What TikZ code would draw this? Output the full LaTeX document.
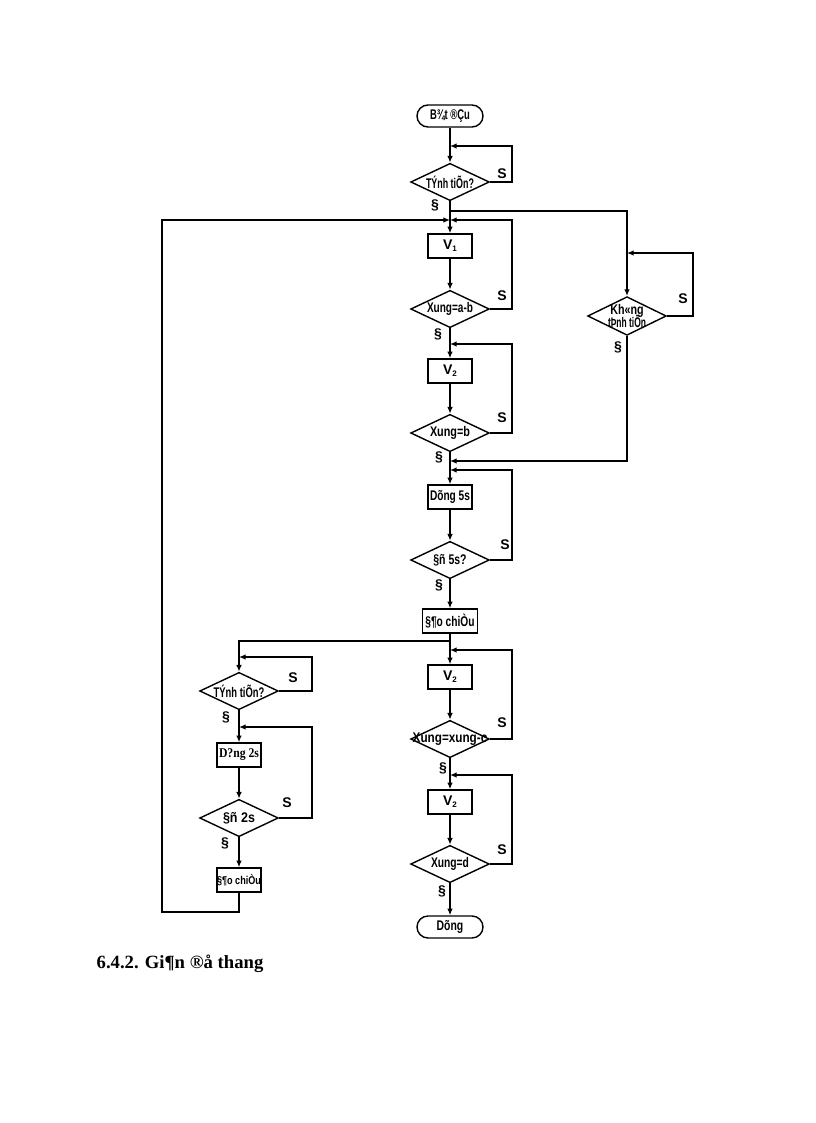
\documentclass[tikz,border=0pt]{standalone}
\usepackage{fontspec}
\usepackage{graphicx}
\setmainfont{Liberation Sans}
\newfontfamily\serifb{Liberation Serif}
\usetikzlibrary{shapes.geometric,arrows.meta}
\newcommand\sqz[2]{\makebox[0pt]{\resizebox{#1}{\height}{#2}}}
\newcommand\vsub[1]{V\raisebox{-1.5pt}{\fontsize{6}{6}\selectfont #1}}
\begin{document}
\begin{tikzpicture}[x=0.75pt,y=-0.75pt,line width=1.05pt,
  nf/.style={font=\fontsize{10.5}{12}\selectfont\bfseries},
  box/.style={nf,draw,rectangle,minimum width=33pt,minimum height=18pt,inner sep=0pt},
  dia/.style={nf,draw,diamond,minimum width=59pt,minimum height=28pt,inner sep=0pt},
  term/.style={nf,draw,rectangle,rounded corners=8.25pt,minimum width=49.5pt,minimum height=16.5pt,inner sep=0pt},
  lbl/.style={nf,inner sep=0pt},
  arr/.style={-{Latex[length=5pt,width=4.2pt]}}]
\fill[white] (0,0) rectangle (816,1123);
\useasboundingbox (0,0) rectangle (816,1123);

% main column
\node[term] (start) at (450,116) {\sqz{30pt}{B¾t ®Çu}};
\node[dia] (d1) at (450,182) {\sqz{36pt}{TÝnh tiÕn?}};
\node[box] (v1) at (450,246) {\makebox[0pt]{\vsub{1}}};
\node[dia] (d2) at (450,309) {\sqz{34.5pt}{Xung=a-b}};
\node[box] (v2) at (450,371) {\makebox[0pt]{\vsub{2}}};
\node[dia] (d3) at (450,433) {\sqz{30pt}{Xung=b}};
\node[box] (dung) at (450,497) {\sqz{30pt}{Dõng 5s}};
\node[dia] (d4) at (450,560) {\sqz{25pt}{§ñ 5s?}};
\node[box,minimum width=41pt] (dc1) at (450,621) {\sqz{37pt}{§¶o chiÒu}};
\node[box] (v3) at (450,677) {\makebox[0pt]{\vsub{2}}};
\node[dia] (d5) at (450,739) {\sqz{56pt}{Xung=xung-c}};
\node[box] (v4) at (450,802) {\makebox[0pt]{\vsub{2}}};
\node[dia] (d6) at (450,864) {\sqz{28.5pt}{Xung=d}};
\node[term] (stop) at (450,927) {\sqz{20pt}{Dõng}};

% right diamond
\node[dia,minimum height=29pt,label={[lbl,align=center]center:\resizebox{25pt}{\height}{Kh«ng}\\[-2pt]\resizebox{28.5pt}{\height}{tÞnh tiÕn}}] (k) at (627,316) {};

% left column
\node[dia] (L1) at (239,691) {\sqz{38pt}{TÝnh tiÕn?}};
\node[box] (b2s) at (239,755) {\makebox[0pt]{\resizebox{30pt}{\height}{\serifb\fontsize{10}{12}\selectfont D?ng 2s}}};
\node[dia] (L2) at (239,818) {\sqz{24pt}{§ñ 2s}};
\node[box,font=\fontsize{8.5}{10}\selectfont\bfseries] (dc2) at (239,880) {\sqz{33pt}{§¶o chiÒu}};

% junctions
\coordinate (j1) at (450,146);
\coordinate (j2) at (450,211);
\coordinate (j3) at (450,220);
\coordinate (j4) at (450,344);
\coordinate (j5) at (450,461);
\coordinate (j6) at (450,470);
\coordinate (j7) at (450,641);
\coordinate (j8) at (450,650);
\coordinate (j9) at (450,775);
\coordinate (jk) at (627,253);
\coordinate (jL1) at (239,657);
\coordinate (jL2) at (239,727);

% main flow
\draw[arr] (start) -- (d1);
\draw[arr] (d1) -- (v1);
\draw[arr] (v1) -- (d2);
\draw[arr] (d2) -- (v2);
\draw[arr] (v2) -- (d3);
\draw[arr] (d3) -- (dung);
\draw[arr] (dung) -- (d4);
\draw[arr] (d4) -- (dc1);
\draw[arr] (dc1) -- (v3);
\draw[arr] (v3) -- (d5);
\draw[arr] (d5) -- (v4);
\draw[arr] (v4) -- (d6);
\draw[arr] (d6) -- (stop);
\draw[arr] (L1) -- (b2s);
\draw[arr] (b2s) -- (L2);
\draw[arr] (L2) -- (dc2);

% loops
\draw[arr] (d1.east) -| (512,146) -- (j1);
\draw[arr] (d2.east) -| (512,220) -- (j3);
\draw[arr] (d3.east) -| (512,344) -- (j4);
\draw[arr] (d4.east) -| (512,470) -- (j6);
\draw[arr] (d5.east) -| (512,650) -- (j8);
\draw[arr] (d6.east) -| (512,775) -- (j9);
\draw[arr] (k.east) -| (693,253) -- (jk);
\draw[arr] (L1.east) -| (312,657) -- (jL1);
\draw[arr] (L2.east) -| (312,727) -- (jL2);
\draw[arr] (j2) -| (k.north);
\draw[arr] (k.south) |- (j5);
\draw[arr] (j7) -| (L1.north);
\draw[arr] (dc2.south) |- (162,912) |- (j3);

% labels
\node[lbl] (s1) at (502,174) {S};
\node[lbl] (n1) at (435,205) {§};
\node[lbl] (s2) at (502,296) {S};
\node[lbl] (n2) at (438,334) {§};
\node[lbl] (s3) at (502,418) {S};
\node[lbl] (n3) at (439,457) {§};
\node[lbl] (sk) at (683,299) {S};
\node[lbl] (nk) at (618,347) {§};
\node[lbl] (s4) at (505,545) {S};
\node[lbl] (n4) at (439,585) {§};
\node[lbl] (s5) at (502,723) {S};
\node[lbl] (n5) at (443,768) {§};
\node[lbl] (s6) at (502,850) {S};
\node[lbl] (n6) at (442,891) {§};
\node[lbl] (sL1) at (293,678) {S};
\node[lbl] (nL1) at (226,717) {§};
\node[lbl] (sL2) at (287,803) {S};
\node[lbl] (nL2) at (225,843) {§};

% caption
\node[anchor=base west,inner sep=0pt,font=\serifb\bfseries\fontsize{14}{16}\selectfont] (cap) at (96,968) {6.4.2. Gi¶n ®å thang};
\end{tikzpicture}
\end{document}
